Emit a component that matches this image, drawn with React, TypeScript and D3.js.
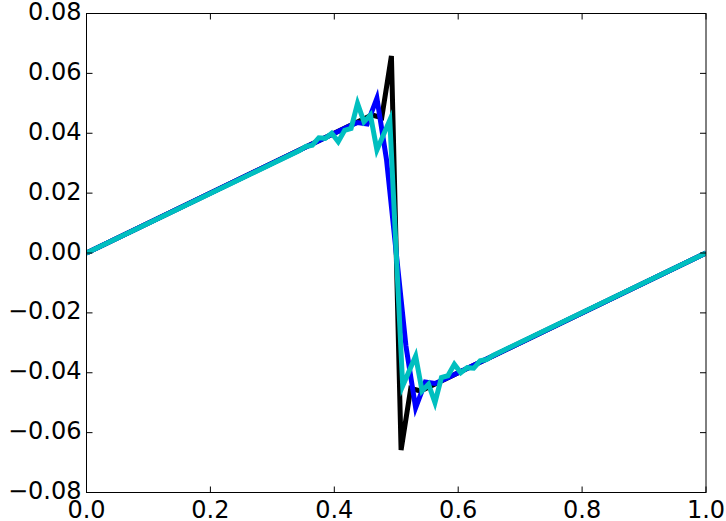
import React from 'react';
import * as d3 from 'd3';

// series (x in [0,1], y values)
const blackX = [0, 0.4609, 0.4766, 0.4922, 0.5078, 0.5234, 0.5391, 1];
const blackY = [0, 0.0461, 0.0452, 0.0658, -0.0658, -0.0452, -0.0461, 0];

const blueX = [0, 0.4219, 0.4375, 0.4531, 0.4688, 0.4844, 0.5, 0.5156, 0.5313, 0.5469, 0.5625, 0.5781, 1];
const blueY = [0, 0.0422, 0.0436, 0.0431, 0.0517, 0.031, 0, -0.031, -0.0517, -0.0431, -0.0436, -0.0422, 0];

const cyanX = [
  0, 0.3438, 0.3542, 0.3646, 0.375, 0.3854, 0.3958, 0.4063, 0.4167, 0.4271, 0.4375, 0.4479,
  0.4583, 0.4688, 0.4792, 0.4896, 0.5, 0.5104, 0.5208, 0.5313, 0.5417, 0.5521, 0.5625,
  0.5729, 0.5833, 0.5938, 0.6042, 0.6146, 0.625, 0.6354, 0.6458, 0.6563, 1,
];
const cyanY = [
  0, 0.0342, 0.0356, 0.036, 0.0385, 0.0383, 0.04, 0.0372, 0.041, 0.0416, 0.05, 0.0438,
  0.0461, 0.0344, 0.0394, 0.0444, 0, -0.0444, -0.0394, -0.0344, -0.0461, -0.0438, -0.05,
  -0.0416, -0.041, -0.0372, -0.04, -0.0383, -0.0385, -0.036, -0.0356, -0.0342, 0,
];

const xTicks = [0, 0.2, 0.4, 0.6, 0.8, 1.0];
const yTicks = [-0.08, -0.06, -0.04, -0.02, 0, 0.02, 0.04, 0.06, 0.08];

const series = [
  { xs: blackX, ys: blackY, color: '#000000' },
  { xs: blueX, ys: blueY, color: '#0000ff' },
  { xs: cyanX, ys: cyanY, color: '#00bfbf' },
];

const W = 726;
const H = 521;
const margin = { top: 13.5, right: 20, bottom: 28.5, left: 86.5 };

const App = () => {
  const plotW = W - margin.left - margin.right;
  const plotH = H - margin.top - margin.bottom;

  const x = d3.scaleLinear().domain([0, 1]).range([0, plotW]);
  const y = d3.scaleLinear().domain([-0.08, 0.08]).range([plotH, 0]);

  const line = d3.line<number[]>()
    .x(d => x(d[0]))
    .y(d => y(d[1]));

  const xFmt = d3.format('.1f');
  const yFmt = d3.format('.2f');
  const tickLen = 6;
  const font = '"DejaVu Sans", sans-serif';

  return (
    <svg
      width={W}
      height={H}
      style={{ position: 'absolute', left: 0, top: 0, background: '#fff' }}
    >
      <g transform={`translate(${margin.left},${margin.top})`}>
        <defs>
          <clipPath id="plot-clip">
            <rect x={0} y={0} width={plotW} height={plotH} />
          </clipPath>
        </defs>

        <g clipPath="url(#plot-clip)">
          {series.map((s, i) => (
            <path
              key={i}
              d={line(s.xs.map((v, j) => [v, s.ys[j]])) || ''}
              fill="none"
              stroke={s.color}
              strokeWidth={5}
              strokeLinejoin="miter"
              strokeMiterlimit={10}
            />
          ))}
        </g>

        {/* ticks, inward on all four sides */}
        {xTicks.map(t => (
          <g key={'xt' + t}>
            <line x1={x(t)} x2={x(t)} y1={plotH} y2={plotH - tickLen} stroke="#000" />
            <line x1={x(t)} x2={x(t)} y1={0} y2={tickLen} stroke="#000" />
            <text
              x={x(t)}
              y={plotH + 25.5}
              textAnchor="middle"
              fontFamily={font}
              fontSize={24}
              fill="#000"
            >
              {xFmt(t)}
            </text>
          </g>
        ))}
        {yTicks.map(t => (
          <g key={'yt' + t}>
            <line x1={0} x2={tickLen} y1={y(t)} y2={y(t)} stroke="#000" />
            <line x1={plotW} x2={plotW - tickLen} y1={y(t)} y2={y(t)} stroke="#000" />
            <text
              x={-5}
              y={y(t) + 6.5}
              textAnchor="end"
              fontFamily={font}
              fontSize={24}
              fill="#000"
            >
              {yFmt(t)}
            </text>
          </g>
        ))}

        <rect x={0} y={0} width={plotW} height={plotH} fill="none" stroke="#000" strokeWidth={1} />
      </g>
    </svg>
  );
};

export default App;
